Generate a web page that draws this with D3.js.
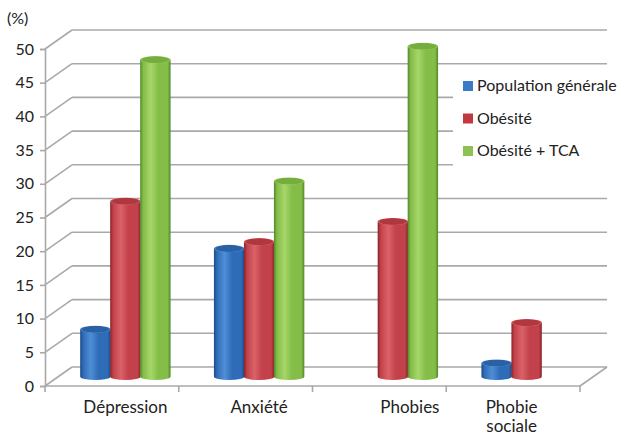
<!DOCTYPE html>
<html>
<head>
<meta charset="utf-8">
<script src="https://cdn.jsdelivr.net/npm/d3@7"></script>
<style>
  html, body { margin: 0; padding: 0; background: #fff; }
  svg { display: block; font-family: Lato, "Open Sans", sans-serif; }
</style>
</head>
<body>
<svg id="chart" width="619" height="436"></svg>
<script>
// Prévalence des troubles (%) par groupe
const categories = ["Dépression", "Anxiété", "Phobies", "Phobie sociale"];
const series = ["Population générale", "Obésité", "Obésité + TCA"];
const popGenerale = [7, 19, null, 2];
const obesite = [26, 20, 23, 8];
const obesiteTCA = [47, 29, 49, null];
const yTicks = [0, 5, 10, 15, 20, 25, 30, 35, 40, 45, 50];
const yUnit = "(%)";

const values = [popGenerale, obesite, obesiteTCA];

// Colour ramps for each series
const palette = [
  { edge: "#1c4a86", light: "#4f8ed6", body: "#2f6cb8", top: "#2a60a4", rim: "#6aa0dc", key: "#3a7bc6" },
  { edge: "#872329", light: "#da6268", body: "#c2414a", top: "#b1373f", rim: "#de7a7f", key: "#c1393f" },
  { edge: "#54872a", light: "#a6d66a", body: "#84bd48", top: "#76ad3f", rim: "#a9d874", key: "#8dc253" }
];

const svg = d3.select("#chart");
const defs = svg.append("defs");

// 3D frame geometry: front plane, depth offset toward the back wall
const frontLeft = 45, frontRight = 580;
const depthX = 27, depthY = -19;

const x0 = d3.scaleBand().domain(categories).range([frontLeft, frontRight]);
const yFront = d3.scaleLinear().domain([0, 50]).range([386, 49]);
const yBack = v => yFront(v) + depthY;
const yMid = v => yFront(v) + depthY / 2;
const x1 = d3.scaleBand().domain(series).range([-45, 45]);

const gridColor = "#a9a9a9";

// Back wall gridlines and side wall diagonals
const frame = svg.append("g").attr("fill", "none").attr("stroke", gridColor).attr("stroke-width", 1.6);
yTicks.forEach(t => {
  frame.append("line")
    .attr("x1", frontLeft + depthX).attr("x2", frontRight + depthX)
    .attr("y1", yBack(t)).attr("y2", yBack(t));
  frame.append("line")
    .attr("x1", frontLeft).attr("x2", frontLeft + depthX)
    .attr("y1", yFront(t)).attr("y2", yBack(t));
});
// Floor front edge and right side
frame.append("line")
  .attr("x1", frontLeft).attr("x2", frontRight)
  .attr("y1", yFront(0)).attr("y2", yFront(0));
frame.append("line")
  .attr("x1", frontRight).attr("x2", frontRight + depthX)
  .attr("y1", yFront(0)).attr("y2", yBack(0));

// Category separators under the floor
const sep = x0.domain().map(d => x0(d)).concat([frontRight]);
sep.forEach(sx => {
  frame.append("line").attr("x1", sx).attr("x2", sx)
    .attr("y1", yFront(0)).attr("y2", yFront(0) + 6);
});

// Value axis on the front left edge
const yAxis = d3.axisLeft(yFront).tickValues(yTicks).tickSize(5).tickPadding(6);
const gy = svg.append("g").attr("transform", `translate(${frontLeft},0)`).call(yAxis);
gy.select(".domain").attr("stroke", gridColor).attr("stroke-width", 1.6);
gy.selectAll(".tick line").attr("stroke", gridColor).attr("stroke-width", 1.6);
gy.selectAll(".tick text")
  .attr("font-size", 16).attr("fill", "#222")
  .style("font-family", "Lato, 'Open Sans', sans-serif");

svg.append("text").attr("x", 7).attr("y", 24)
  .attr("font-size", 16).attr("fill", "#222").text(yUnit);

// Gradients for the cylinders
palette.forEach((p, i) => {
  const g = defs.append("linearGradient").attr("id", `body${i}`)
    .attr("x1", "0%").attr("x2", "100%").attr("y1", "0%").attr("y2", "0%");
  [[0, p.edge], [0.1, p.body], [0.35, p.light], [0.6, p.body], [0.9, p.body], [1, p.edge]]
    .forEach(([o, c]) => g.append("stop").attr("offset", o).attr("stop-color", c));
  const t = defs.append("radialGradient").attr("id", `top${i}`)
    .attr("cx", "50%").attr("cy", "50%").attr("r", "55%");
  [[0, p.top], [0.75, p.top], [1, p.rim]]
    .forEach(([o, c]) => t.append("stop").attr("offset", o).attr("stop-color", c));
});

// Cylinders, placed halfway into the depth of the floor
const rx = 15.2, ry = 3.6;
const bars = [];
categories.forEach((cat, ci) => {
  series.forEach((s, si) => {
    const v = values[si][ci];
    if (v == null) return;
    bars.push({ cat, s, si, v });
  });
});

const gBars = svg.append("g");
bars.forEach(b => {
  const cx = x0(b.cat) + x0.bandwidth() / 2 + depthX / 2 + x1(b.s) + x1.bandwidth() / 2;
  const yt = yMid(b.v), yb = yMid(0);
  const body = `M${cx - rx},${yt} L${cx - rx},${yb} A${rx},${ry} 0 0 0 ${cx + rx},${yb} L${cx + rx},${yt} Z`;
  gBars.append("path").attr("d", body).attr("fill", `url(#body${b.si})`);
  gBars.append("ellipse").attr("cx", cx).attr("cy", yt).attr("rx", rx).attr("ry", ry)
    .attr("fill", `url(#top${b.si})`);
});

// Category labels (multi-word names wrap onto two lines)
const labelNudge = { "Phobies": 17, "Phobie sociale": -15 };
const gx = svg.append("g").attr("font-size", 17).attr("fill", "#222").attr("text-anchor", "middle");
categories.forEach(cat => {
  const cx = x0(cat) + x0.bandwidth() / 2 + depthX / 2 + (labelNudge[cat] || 0);
  const words = cat.split(" ");
  const txt = gx.append("text").attr("x", cx).attr("y", 413);
  words.forEach((w, i) => {
    txt.append("tspan").attr("x", cx).attr("dy", i === 0 ? 0 : 19).text(w);
  });
});

// Legend on a white panel over the back wall
const lg = svg.append("g");
lg.append("rect").attr("x", 453).attr("y", 67).attr("width", 162).attr("height", 128).attr("fill", "#fff");
series.forEach((s, i) => {
  const yy = 87 + i * 32.5;
  lg.append("rect").attr("x", 463).attr("y", yy - 6).attr("width", 10).attr("height", 10)
    .attr("fill", palette[i].key);
  lg.append("text").attr("x", 477).attr("y", yy + 4)
    .attr("font-size", 16).attr("fill", "#222").text(s);
});
</script>
</body>
</html>
